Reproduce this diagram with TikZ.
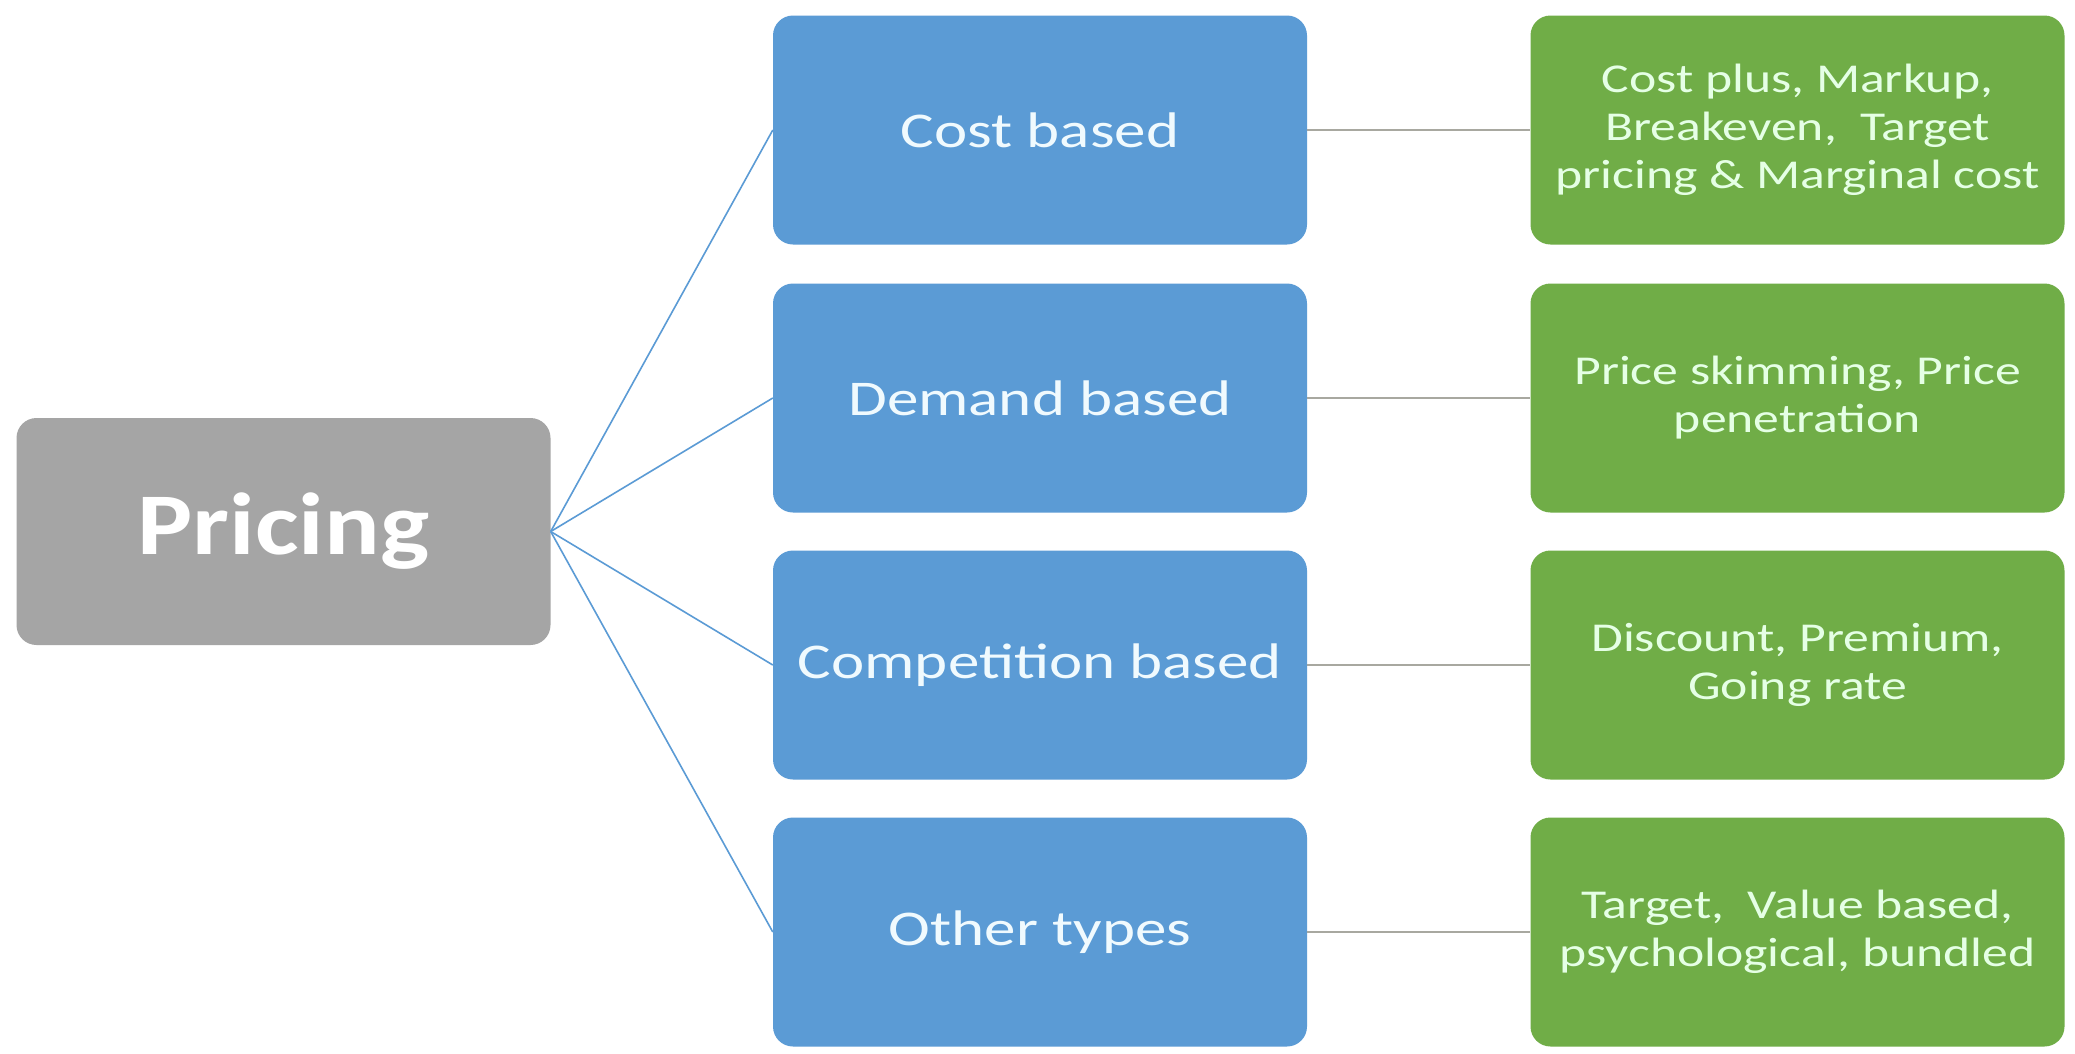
\documentclass[tikz,border=0pt]{standalone}
\usepackage{fontspec}
\setmainfont{Carlito}[FakeStretch=1.26]
\newfontfamily\rootfont{Carlito}[FakeStretch=1.18]
\definecolor{boxgrey}{HTML}{A5A5A5}
\definecolor{boxblue}{HTML}{5B9BD5}
\definecolor{boxgreen}{HTML}{70AD47}
\definecolor{linegrey}{HTML}{A8A8A0}
\begin{document}
\begin{tikzpicture}[x=1pt,y=-1pt,
  box/.style={rounded corners=20pt, minimum width=534pt, minimum height=229pt, inner sep=0pt, align=center, text=white},
  rootbox/.style={box, fill=boxgrey, minimum height=227pt, font=\rootfont\bfseries\fontsize{88}{100}\selectfont},
  catbox/.style={box, fill=boxblue, text=white!94!cyan, font=\fontsize{50}{60}\selectfont},
  detbox/.style={box, fill=boxgreen, text=white!90!green, font=\fontsize{41}{48}\selectfont},
  bluelink/.style={draw=boxblue, line width=1.6pt},
  greylink/.style={draw=linegrey, line width=1.6pt}]
\useasboundingbox (0,0) rectangle (2075,1053);
\fill[white] (0,0) rectangle (2075,1053);
\node[rootbox] (root) at (283.5,531.5) {Pricing};
\node[catbox] (c1) at (1040,130) {Cost based};
\node[catbox] (c2) at (1040,398) {Demand based};
\node[catbox] (c3) at (1040,665) {Competition based};
\node[catbox] (c4) at (1040,932) {Other types};
\node[detbox] (d1) at (1797.5,130) {Cost plus, Markup,\\Breakeven,\ \ Target\\pricing \& Marginal cost};
\node[detbox] (d2) at (1797.5,398) {Price skimming, Price\\penetration};
\node[detbox] (d3) at (1797.5,665) {Discount, Premium,\\Going rate};
\node[detbox] (d4) at (1797.5,932) {Target,\ \ Value based,\\psychological, bundled};
\foreach \i in {1,2,3,4} {
  \draw[bluelink] (root.east) -- (c\i.west);
  \draw[greylink] (c\i.east) -- (d\i.west);
}
\end{tikzpicture}
\end{document}
